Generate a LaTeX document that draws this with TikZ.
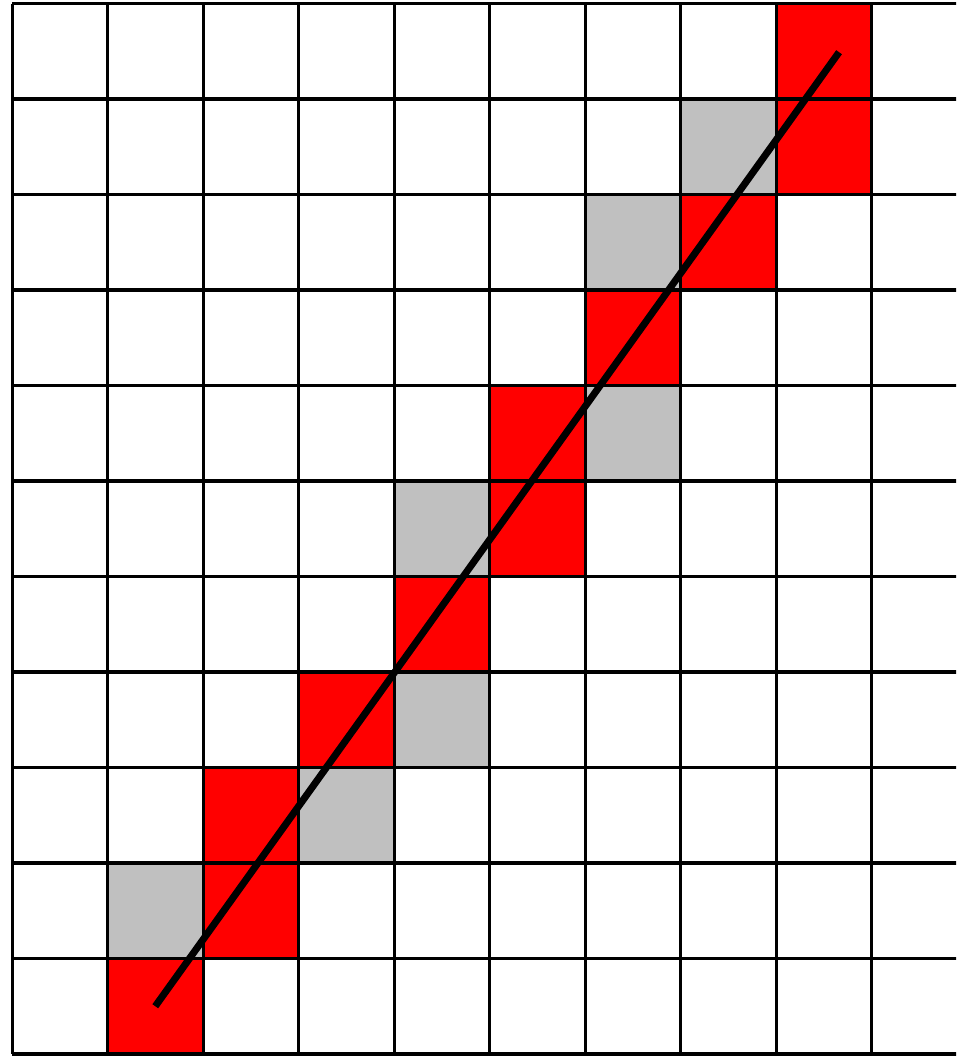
\documentclass[tikz,border=0pt]{standalone}
\usepackage{xcolor}
\usepackage{tikz}
\definecolor{pixgray}{RGB}{192,192,192}

\begin{document}
\begin{tikzpicture}[
    x=1cm, y=1cm,
    redcell/.style={fill=red},
    graycell/.style={fill=pixgray},
    gridline/.style={draw=black, line width=0.9pt},
    rasterline/.style={draw=black, line width=2.1pt}
]
    % Frame
    \useasboundingbox (-0.126,-0.021) rectangle (9.885,11.037);
    \clip (-0.126,-0.021) rectangle (9.885,11.037);

    % Pixels
    \foreach \cx/\cy in {8/10, 8/9, 7/8, 6/7, 5/6, 5/5, 4/4, 3/3, 2/2, 2/1, 1/0}
        \fill[redcell] (\cx,\cy) rectangle ++(1,1);
    \foreach \cx/\cy in {7/9, 6/8, 6/6, 4/5, 4/3, 3/2, 1/1}
        \fill[graycell] (\cx,\cy) rectangle ++(1,1);

    % Grid
    \foreach \gx in {0,...,9}
        \draw[gridline] (\gx,0) -- (\gx,11);
    \foreach \gy in {0,...,11}
        \draw[gridline] (0,\gy) -- (10,\gy);

    % Line
    \coordinate (start) at (1.5,0.5);
    \coordinate (end) at (8.66,10.49);
    \draw[rasterline] (start) -- (end);

\end{tikzpicture}
\end{document}
